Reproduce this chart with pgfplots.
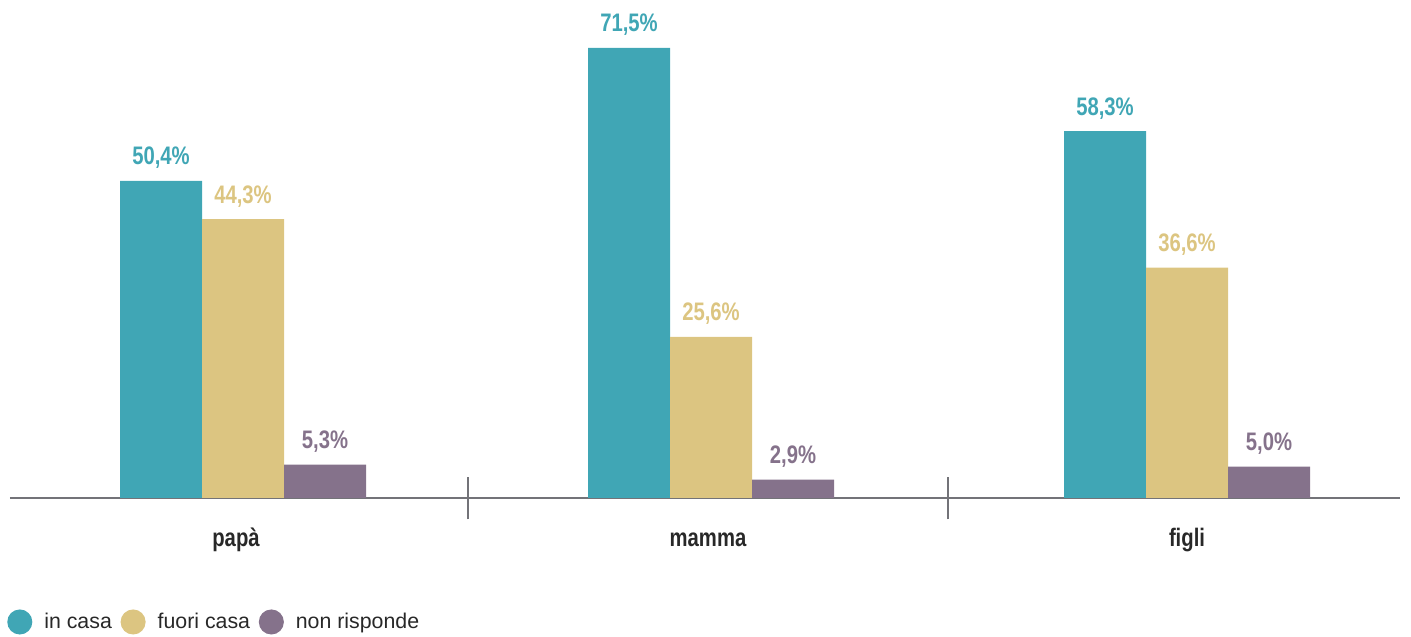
\documentclass[border=0pt]{standalone}
\usepackage{pgfplots}
\pgfplotsset{compat=1.18}
\usepackage{pgfplotstable}
\usepackage{fontspec}
\setmainfont{Liberation Sans}
\newfontfamily\cond[FakeStretch=0.8]{Liberation Sans}
\definecolor{cteal}{RGB}{64,166,181}
\definecolor{cgold}{RGB}{220,197,129}
\definecolor{cpurp}{RGB}{133,114,139}
\definecolor{caxis}{RGB}{115,115,120}
\definecolor{ctext}{RGB}{40,40,40}

\pgfplotstableread{
x incasa fuori nonrisp
243 50.4 44.3 5.3
711 71.5 25.6 2.9
1187 58.3 36.6 5.0
}\data

\begin{document}
\begin{tikzpicture}
\begin{axis}[
  x=0.75pt, y=4.7205pt,
  xmin=10, xmax=1400, ymin=0, ymax=79.12,
  axis x line*=bottom, axis y line=none,
  x axis line style={-, caxis, line width=1pt},
  clip=false,
  ybar=0pt, bar width=61.5pt,
  xtick={236,708,1187},
  xticklabels={papà,mamma,figli},
  major tick length=0pt,
  xticklabel style={anchor=base, yshift=-36.75pt, text=ctext,
    font=\cond\bfseries\fontsize{19}{22}\selectfont},
  extra x ticks={468,948},
  extra x tick labels={},
  extra x tick style={major tick length=32pt, tick align=center,
    tick style={caxis, line width=1pt}},
  nodes near coords={\pgfmathprintnumber[fixed,fixed zerofill,precision=1,use comma,assume math mode=true]{\pgfplotspointmeta}\%},
  every node near coord/.append style={anchor=base, yshift=12pt, inner sep=0pt,
    font=\cond\bfseries\fontsize{19}{22}\selectfont},
  legend columns=-1,
  legend style={draw=none, fill=none, inner sep=0pt, at={(-0.00216,-0.249)}, anchor=west,
    font=\fontsize{16}{19}\selectfont, text=ctext,
    nodes={inner sep=0pt},
    /tikz/every odd column/.append style={column sep=9pt},
    /tikz/every even column/.append style={column sep=6.5pt}},
  legend image code/.code={\fill[#1] (9.4pt,0pt) circle (9.4pt);},
]
\addplot[fill=cteal, draw=none, every node near coord/.append style={text=cteal}] table[x=x, y=incasa] {\data};
\addplot[fill=cgold, draw=none, every node near coord/.append style={text=cgold}] table[x=x, y=fuori] {\data};
\addplot[fill=cpurp, draw=none, every node near coord/.append style={text=cpurp}] table[x=x, y=nonrisp] {\data};
\legend{in casa, fuori casa, non risponde}
\path (axis cs:0,-22.08) rectangle (axis cs:1411,79.12);
\end{axis}
\end{tikzpicture}
\end{document}
